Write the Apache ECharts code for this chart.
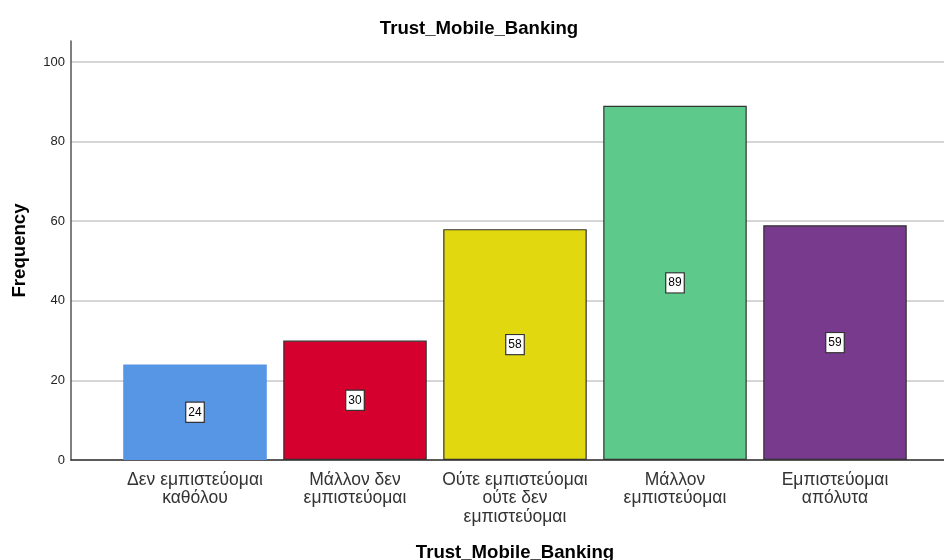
<!DOCTYPE html>
<html>
<head>
<meta charset="utf-8">
<script src="https://cdn.jsdelivr.net/npm/echarts@6/dist/echarts.min.js"></script>
<style>
  html, body { margin: 0; padding: 0; background: #ffffff; }
  #chart { width: 944px; height: 560px; }
</style>
</head>
<body>
<div id="chart"></div>
<script>
// Response categories (Greek), counts and bar colours
const categories = [
  'Δεν εμπιστεύομαι\nκαθόλου',
  'Μάλλον δεν\nεμπιστεύομαι',
  'Ούτε εμπιστεύομαι\nούτε δεν\nεμπιστεύομαι',
  'Μάλλον\nεμπιστεύομαι',
  'Εμπιστεύομαι\nαπόλυτα'
];
const frequencies = [24, 30, 58, 89, 59];
const barColors = ['#5795E5', '#D6002F', '#E2D810', '#5DC98A', '#773A8C'];
const barBorders = ['#5795E5', '#333333', '#333333', '#333333', '#333333'];
const yTicks = [0, 20, 40, 60, 80, 100];

const FONT = 'Liberation Sans, Arial, sans-serif';
const TOP_100 = 62;     // pixel row of the 100 gridline
const AXIS_TOP = 41;    // the axis line runs a little above the last tick
const BOTTOM = 100;     // distance of the baseline from the bottom edge

const chart = echarts.init(document.getElementById('chart'), null, { renderer: 'canvas' });

const boldName = { fontFamily: FONT, fontSize: 18.6, fontWeight: 'bold', color: '#000' };

chart.setOption({
  animation: false,
  backgroundColor: '#ffffff',
  title: {
    text: 'Trust_Mobile_Banking',
    left: 474, top: 14, textAlign: 'center',
    textStyle: boldName
  },
  grid: [
    // 0: frame with the y axis line, baseline and the y axis title
    { left: 71, right: 0, top: AXIS_TOP, bottom: BOTTOM, outerBoundsMode: 'none' },
    // 1: tick labels and gridlines (0..100)
    { left: 71, right: 0, top: TOP_100, bottom: BOTTOM, outerBoundsMode: 'none' },
    // 2: bars inside a narrower band, same 0..100 scale
    { left: 115, right: 29, top: TOP_100, bottom: BOTTOM, outerBoundsMode: 'none' }
  ],
  xAxis: [
    {
      gridIndex: 0, type: 'value', min: 0, max: 1,
      axisLine: { show: true, onZero: false, lineStyle: { color: '#333', width: 1.5 } },
      axisTick: { show: false }, axisLabel: { show: false }, splitLine: { show: false }
    },
    {
      gridIndex: 1, type: 'value', min: 0, max: 1, show: false
    },
    {
      gridIndex: 2, type: 'category', data: categories,
      name: 'Trust_Mobile_Banking', nameLocation: 'middle', nameGap: 83,
      nameTextStyle: boldName,
      axisLine: { show: false }, axisTick: { show: false },
      axisLabel: {
        interval: 0, margin: 10.5, fontFamily: FONT, fontSize: 17.5, lineHeight: 18.5, color: '#333'
      }
    }
  ],
  yAxis: [
    {
      gridIndex: 0, type: 'value', min: 0, max: 1,
      name: 'Frequency', nameLocation: 'middle', nameGap: 42, nameRotate: 90,
      nameTextStyle: boldName,
      axisLine: { show: true, lineStyle: { color: '#555', width: 1.5 } },
      axisTick: { show: false }, axisLabel: { show: false }, splitLine: { show: false }
    },
    {
      gridIndex: 1, type: 'value', min: 0, max: 100, interval: 20,
      axisLine: { show: false }, axisTick: { show: false },
      axisLabel: {
        margin: 6, fontFamily: FONT, fontSize: 13, color: '#222',
        formatter: v => (yTicks.indexOf(v) >= 0 ? String(v) : '')
      },
      splitLine: { show: true, lineStyle: { color: '#c8c8c8', width: 1.5 } }
    },
    {
      gridIndex: 2, type: 'value', min: 0, max: 100, show: false
    }
  ],
  series: [{
    type: 'bar',
    xAxisIndex: 2, yAxisIndex: 2,
    barWidth: 143.5,
    data: frequencies.map((v, i) => ({
      value: v,
      itemStyle: { color: barColors[i], borderColor: barBorders[i], borderWidth: 1.2 }
    })),
    label: {
      show: true, position: 'inside',
      fontFamily: FONT, fontSize: 12, color: '#000',
      backgroundColor: '#ffffff', borderColor: '#333', borderWidth: 1.2,
      padding: [4, 2, 3, 2]
    }
  }]
});
</script>
</body>
</html>
